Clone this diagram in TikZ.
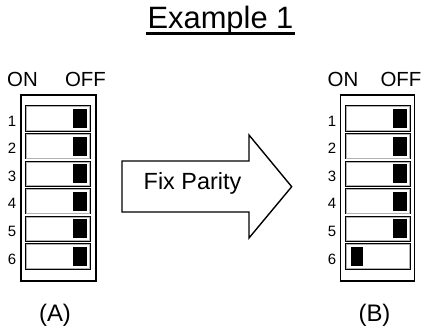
\documentclass[tikz,border=0pt]{standalone}
\usepackage{fontspec}
\setmainfont{Liberation Sans}
\begin{document}
\begin{tikzpicture}[x=1bp,y=-1bp,
  panel/.style={draw,line width=1.6bp,inner sep=0,minimum height=186bp},
  sw/.style={draw,line width=1.3bp,inner sep=0,minimum width=64bp,minimum height=25bp},
  knob/.style={fill=black,inner sep=0,minimum width=13.5bp,minimum height=19bp},
  num/.style={font=\fontsize{15}{17}\selectfont,anchor=base,inner sep=0},
  lab/.style={font=\fontsize{20.5}{24}\selectfont,anchor=base,inner sep=0},
  captext/.style={font=\fontsize{24}{28}\selectfont,anchor=base,inner sep=0},
  shade/.style={draw=gray!60,line width=0.7bp},
  bigarrow/.style={draw,line width=1.4bp,fill=white,line join=miter}
]
\useasboundingbox (0,0) rectangle (427,329);

% title
\node[anchor=base,inner sep=0,font=\fontsize{31}{36}\selectfont] (title) at (220.5,28.5) {Example 1};
\draw[line width=2.6bp] ([xshift=-1.5bp,yshift=-5bp]title.base west) coordinate (ul1) -- ([xshift=1.5bp,yshift=-5bp]title.base east) coordinate (ul2);

% panels
\node[panel,minimum width=75bp] (pa) at (58.5,188) {};
\node[panel,minimum width=74bp] (pb) at (377.5,188) {};

\node[lab] (onA) at (22.5,86) {ON};
\node[lab] (offA) at (85.5,86) {OFF};
\node[lab] (onB) at (343,86) {ON};
\node[lab] (offB) at (401,86) {OFF};

\foreach \i in {1,...,6} {
  \pgfmathsetmacro\t{106+27.6*(\i-1)}
  % left
  \node[sw] (a\i) at (58,\t+12.5) {};
  \draw[shade] ([shift={(1.4,1.4)}]a\i.north west) rectangle ([shift={(-1.4,-1.4)}]a\i.south east);
  \node[knob] (ak\i) at (80,\t+12.5) {};
  \node[num] (an\i) at (12,\t+20) {\i};
  % right
  \node[sw] (b\i) at (378,\t+12.5) {};
  \draw[shade] ([shift={(1.4,1.4)}]b\i.north west) rectangle ([shift={(-1.4,-1.4)}]b\i.south east);
  \ifnum\i<6
    \node[knob] (bk\i) at (400,\t+12.5) {};
  \else
    \node[knob,minimum width=12.5bp] (bk\i) at (357,\t+12.5) {};
  \fi
  \node[num] (bn\i) at (332,\t+20) {\i};
}

% arrow
\draw[bigarrow] (122,161) -- (249,161) -- (249,135) -- (291.7,186.7) -- (249,238) -- (249,212) -- (122,212) -- cycle;
\node[anchor=base,inner sep=0,font=\fontsize{23.5}{27}\selectfont] (fix) at (192.5,189.5) {Fix Parity};

% captions
\node[captext] (capA) at (55,321) {(A)};
\node[captext] (capB) at (374.5,321) {(B)};
\end{tikzpicture}
\end{document}
